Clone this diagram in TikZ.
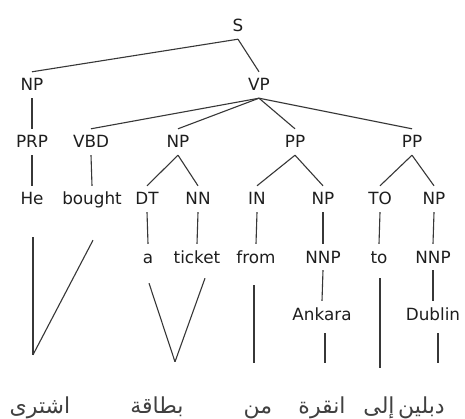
\documentclass[tikz,border=0pt]{standalone}
\usepackage{fontspec}
\usetikzlibrary{calc}
\setmainfont{DejaVu Sans}
\newfontfamily\arabicfont[Script=Arabic]{DejaVu Sans}
\TeXXeTstate=1
\definecolor{treeL}{RGB}{55,55,55}
\definecolor{treeT}{RGB}{30,30,30}

\begin{document}
\begin{tikzpicture}[x=1pt,y=-1pt,
  tag/.style={font=\fontsize{16.8}{18}\selectfont,text=treeT,text height=12pt,text depth=0pt,
    inner xsep=1pt,inner ysep=7pt,anchor=base},
  arw/.style={font=\arabicfont\fontsize{22}{24}\selectfont,text=treeT!85,text height=12pt,text depth=0pt,
    inner xsep=0pt,inner ysep=7pt,anchor=base},
  edge/.style={draw=treeL,line width=1.1pt}]
\useasboundingbox[fill=white] (0,0) rectangle (465,419);
% tree
\node[tag] (s) at (238,32) {S};
\node[tag] (np1) at (32,91) {NP};
\node[tag] (vp) at (259,91) {VP};
\node[tag] (prp) at (32,148) {PRP};
\node[tag] (vbd) at (91,148) {VBD};
\node[tag] (np2) at (178,148) {NP};
\node[tag] (pp1) at (295,148) {PP};
\node[tag] (pp2) at (412,148) {PP};
\node[tag] (he) at (32,205) {He};
\node[tag] (bought) at (92,205) {bought};
\node[tag] (dt) at (147,205) {DT};
\node[tag] (nn) at (198,205) {NN};
\node[tag] (in) at (257,205) {IN};
\node[tag] (np3) at (323,205) {NP};
\node[tag] (to1) at (380,205) {TO};
\node[tag] (np4) at (434,205) {NP};
\node[tag] (a) at (148,263) {a};
\node[tag] (ticket) at (197,263) {ticket};
\node[tag] (from) at (256,263) {from};
\node[tag] (nnp1) at (323,263) {NNP};
\node[tag] (to) at (379,263) {to};
\node[tag] (nnp2) at (433,263) {NNP};
\node[tag] (ankara) at (322,320) {Ankara};
\node[tag] (dublin) at (433,320) {Dublin};
\foreach \p/\c in {s/np1,s/vp,np1/prp,vp/vbd,vp/np2,vp/pp1,vp/pp2,prp/he,vbd/bought,
  np2/dt,np2/nn,pp1/in,pp1/np3,pp2/to1,pp2/np4,dt/a,nn/ticket,in/from,np3/nnp1,
  to1/to,np4/nnp2,nnp1/ankara,nnp2/dublin}
  \draw[edge] (\p.south) -- (\c.north);
% arabic words
\node[arw] (ar1) at (40,413) {\beginR اشترى\endR};
\node[arw] (ar2) at (157,413) {\beginR بطاقة\endR};
\node[arw] (ar3) at (258,413) {\beginR من\endR};
\node[arw] (ar4) at (322,413) {\beginR انقرة\endR};
\node[arw] (ar5) at (379,413) {\beginR إلى\endR};
\node[arw,anchor=base west] (ar6) at (398,413) {\beginR دبلين\endR};
\coordinate (j1) at ($(ar1.north)+(-7,-39)$);
\coordinate (j2) at ($(ar2.north)+(18,-32)$);
\coordinate (j3) at ($(ar3.north)+(-4,-31)$);
\coordinate (j4) at ($(ar4.north)+(3,-31)$);
\coordinate (j5) at ($(ar5.north)+(1,-26)$);
\coordinate (j6) at (438,363);
% alignment links
\draw[edge] ($(he.south)+(1,25)$) -- (j1);
\draw[edge] ($(bought.south)+(1,28)$) -- (j1);
\draw[edge] ($(a.south)+(1,13)$) -- (j2);
\draw[edge] ($(ticket.south)+(8,8)$) -- (j2);
\draw[edge] ($(from.south)+(-2,15)$) -- (j3);
\draw[edge] ($(ankara.south)+(3,6)$) -- (j4);
\draw[edge] ($(to.south)+(1,8)$) -- (j5);
\draw[edge] ($(dublin.south)+(5,6)$) -- (j6);
\end{tikzpicture}
\end{document}
